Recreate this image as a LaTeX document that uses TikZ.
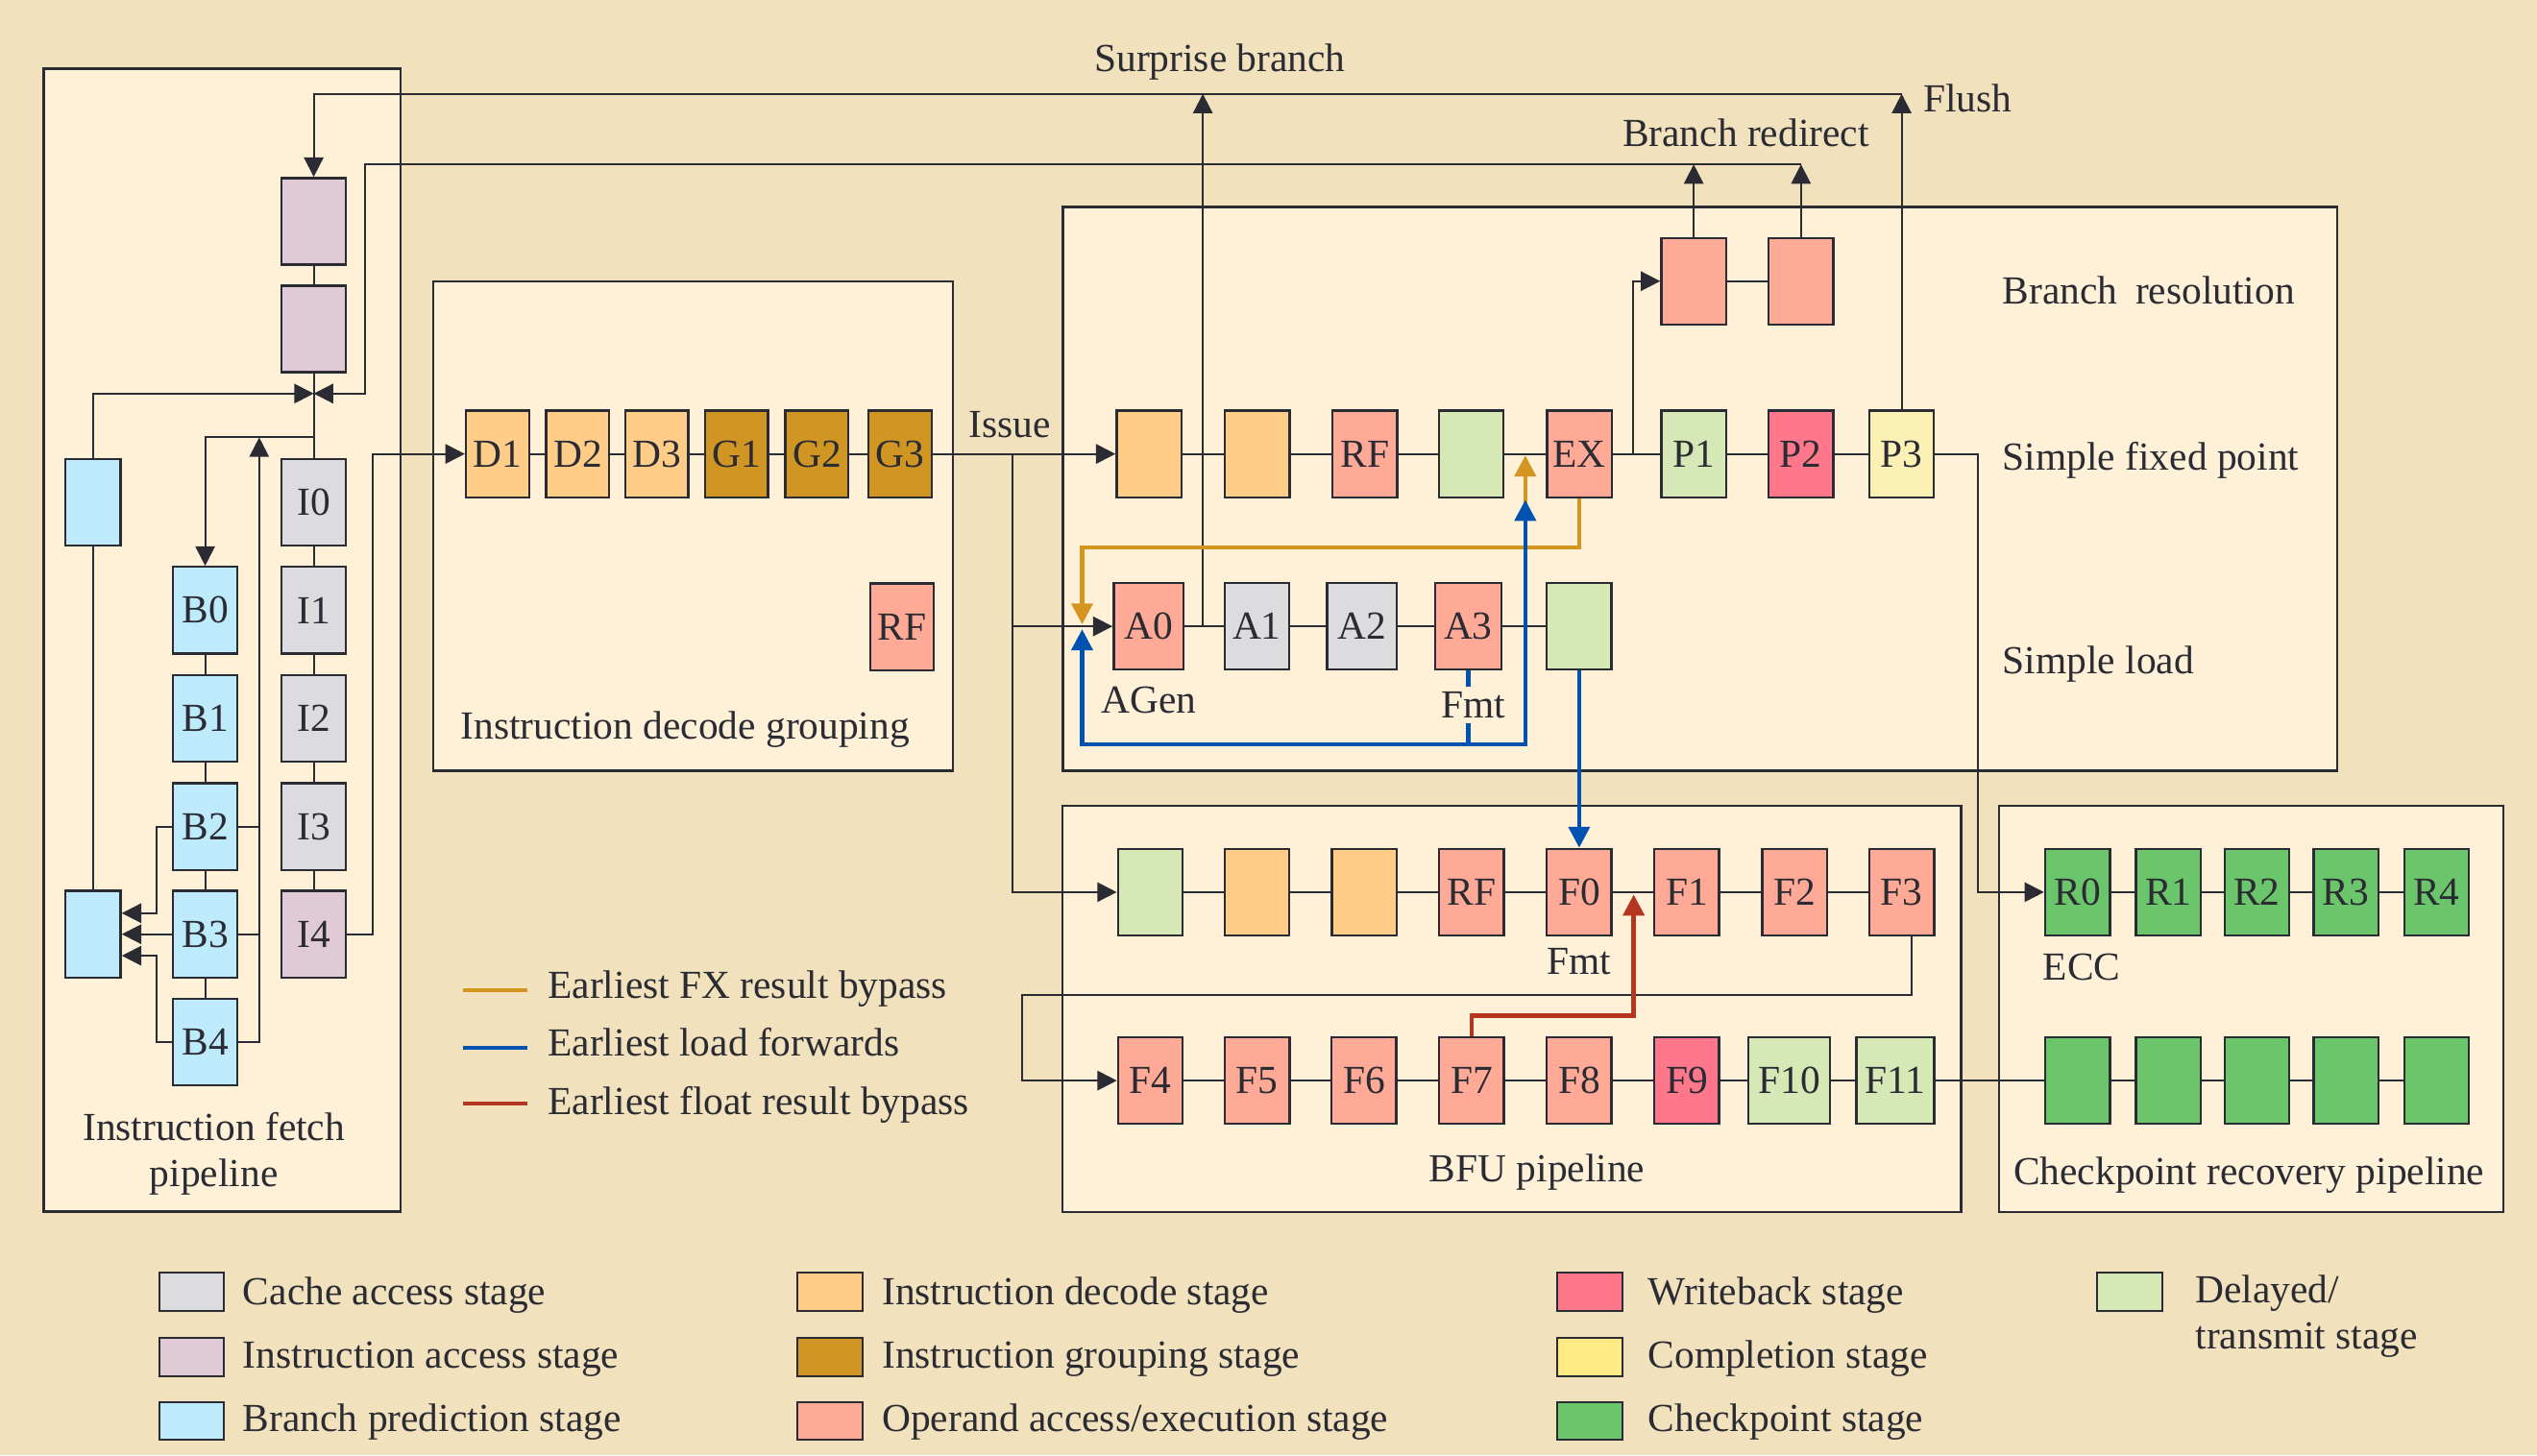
\documentclass[tikz,border=0pt]{standalone}
\usepackage{fontspec}
\setmainfont{Liberation Serif}
\usetikzlibrary{arrows.meta,calc}
\definecolor{bgc}{HTML}{F1E1BC}
\definecolor{panelc}{HTML}{FFF0D8}
\definecolor{ink}{HTML}{2A2B33}
\definecolor{cache}{HTML}{DCDCDE}
\definecolor{iacc}{HTML}{DFCAD5}
\definecolor{bpred}{HTML}{BDEBFC}
\definecolor{idec}{HTML}{FFCD88}
\definecolor{igrp}{HTML}{D19523}
\definecolor{oper}{HTML}{FFAA96}
\definecolor{wbk}{HTML}{FF778B}
\definecolor{compl}{HTML}{FBF1B5}
\definecolor{compleg}{HTML}{FFEA85}
\definecolor{ckpt}{HTML}{6BC56B}
\definecolor{dly}{HTML}{D5E8B5}
\definecolor{fxc}{HTML}{D4961F}
\definecolor{ldc}{HTML}{0052B0}
\definecolor{flc}{HTML}{B5361F}
\tikzset{
  stage/.style={draw=ink, line width=1.4pt, minimum width=40pt, minimum height=53.5pt, inner sep=0pt, text=ink},
  panel/.style={draw=ink, line width=1.5pt, fill=panelc},
  conn/.style={draw=ink, line width=1.2pt},
  arr/.style={conn, -{Triangle[length=12pt,width=12pt]}},
  byo/.style={draw=fxc, line width=2.6pt},
  byb/.style={draw=ldc, line width=2.6pt},
  byr/.style={draw=flc, line width=2.6pt},
  carr/.style={-{Triangle[length=13pt,width=13pt]}},
  lbl/.style={text=ink, inner sep=0pt},
  swatch/.style={draw=ink, line width=1.2pt, minimum width=40pt, minimum height=23.5pt, inner sep=0pt},
}
\begin{document}
\begin{tikzpicture}[x=1pt,y=-1pt,font=\fontsize{24.6pt}{29pt}\selectfont]
\fill[bgc] (0,0) rectangle (1568,899.5);
\useasboundingbox (0,0) rectangle (1568,899.5);
% containers
\draw[panel] (27,42.4) rectangle (247.5,749);
\draw[panel] (267.8,174) rectangle (589,476.3);
\draw[panel] (656.8,128) rectangle (1444.4,476.3);
\draw[panel] (656.7,498.2) rectangle (1212,749.3);
\draw[panel] (1235.6,498.2) rectangle (1547.2,749.3);

% ---------------- fetch pipeline
\node[stage, fill=iacc] (pa) at (193.9,136.8) {};
\node[stage, fill=iacc] (pb) at (193.9,203.4) {};
\node[stage, fill=cache] (I0) at (193.9,310.5) {I0};
\node[stage, fill=cache] (I1) at (193.9,377.2) {I1};
\node[stage, fill=cache] (I2) at (193.9,444) {I2};
\node[stage, fill=cache] (I3) at (193.9,511) {I3};
\node[stage, fill=iacc] (I4) at (193.9,577.5) {I4};
\node[stage, fill=bpred] (B0) at (126.8,377.2) {B0};
\node[stage, fill=bpred] (B1) at (126.8,444) {B1};
\node[stage, fill=bpred] (B2) at (126.8,511) {B2};
\node[stage, fill=bpred] (B3) at (126.8,577.5) {B3};
\node[stage, fill=bpred] (B4) at (126.8,644.2) {B4};
\node[stage, fill=bpred, minimum width=34.4pt] (bt) at (57.4,310.5) {};
\node[stage, fill=bpred, minimum width=34.4pt] (bb) at (57.4,577.5) {};

% ---------------- decode
\node[stage, fill=idec, minimum width=39pt] (D1) at (307.5,280.6) {D1};
\node[stage, fill=idec, minimum width=39pt] (D2) at (357.1,280.6) {D2};
\node[stage, fill=idec, minimum width=39pt] (D3) at (405.9,280.6) {D3};
\node[stage, fill=igrp, minimum width=39pt] (G1) at (455.2,280.6) {G1};
\node[stage, fill=igrp, minimum width=39pt] (G2) at (504.9,280.6) {G2};
\node[stage, fill=igrp, minimum width=39pt] (G3) at (556.4,280.6) {G3};
\node[stage, fill=oper, minimum width=39pt] (dRF) at (557.5,387.5) {RF};

% ---------------- fixed point / branch
\node[stage, fill=idec] (x1) at (710.1,280.6) {};
\node[stage, fill=idec] (x2) at (777,280.6) {};
\node[stage, fill=oper] (xRF) at (843.6,280.6) {RF};
\node[stage, fill=dly] (xG) at (909.3,280.6) {};
\node[stage, fill=oper] (EX) at (976.2,280.6) {EX};
\node[stage, fill=dly] (P1) at (1046.8,280.6) {P1};
\node[stage, fill=wbk] (P2) at (1113.1,280.6) {P2};
\node[stage, fill=compl] (P3) at (1175.3,280.6) {P3};
\node[stage, fill=oper] (br1) at (1046.8,173.8) {};
\node[stage, fill=oper] (br2) at (1113.1,173.8) {};

% ---------------- simple load
\node[stage, fill=oper, minimum width=43pt] (A0) at (709.8,387.2) {A0};
\node[stage, fill=cache] (A1) at (776.8,387.2) {A1};
\node[stage, fill=cache, minimum width=43pt] (A2) at (841.7,387.2) {A2};
\node[stage, fill=oper, minimum width=41pt] (A3) at (907.4,387.2) {A3};
\node[stage, fill=dly] (lG) at (976,387.2) {};

% ---------------- BFU
\node[stage, fill=dly] (u1) at (710.9,551.5) {};
\node[stage, fill=idec] (u2) at (776.8,551.5) {};
\node[stage, fill=idec] (u3) at (843.2,551.5) {};
\node[stage, fill=oper] (uRF) at (909.5,551.5) {RF};
\node[stage, fill=oper] (F0) at (976,551.5) {F0};
\node[stage, fill=oper] (F1) at (1042.5,551.5) {F1};
\node[stage, fill=oper] (F2) at (1109.1,551.5) {F2};
\node[stage, fill=oper] (F3) at (1175.4,551.5) {F3};
\node[stage, fill=oper] (F4) at (711,668) {F4};
\node[stage, fill=oper] (F5) at (777,668) {F5};
\node[stage, fill=oper] (F6) at (843,668) {F6};
\node[stage, fill=oper] (F7) at (909.5,668) {F7};
\node[stage, fill=oper] (F8) at (976,668) {F8};
\node[stage, fill=wbk] (F9) at (1042.5,668) {F9};
\node[stage, fill=dly, minimum width=50.4pt] (F10) at (1105.8,668) {F10};
\node[stage, fill=dly, minimum width=48pt] (F11) at (1171.4,668) {F11};

% ---------------- checkpoint
\node[stage, fill=ckpt] (R0) at (1284,551.5) {R0};
\node[stage, fill=ckpt] (R1) at (1340.2,551.5) {R1};
\node[stage, fill=ckpt] (R2) at (1394.9,551.5) {R2};
\node[stage, fill=ckpt] (R3) at (1449.9,551.5) {R3};
\node[stage, fill=ckpt] (R4) at (1505.9,551.5) {R4};
\node[stage, fill=ckpt] (c0) at (1284,668) {};
\node[stage, fill=ckpt] (c1) at (1340.2,668) {};
\node[stage, fill=ckpt] (c2) at (1394.9,668) {};
\node[stage, fill=ckpt] (c3) at (1449.9,668) {};
\node[stage, fill=ckpt] (c4) at (1505.9,668) {};

% ---------------- coordinates
\coordinate (jn) at (193.9,243.3);
\coordinate (jb) at (193.9,270.4);
\coordinate (rdR) at (1113.1,101.6);
\coordinate (rdL) at (225.6,101.6);
\coordinate (flR) at (1175.3,58);
\coordinate (flL) at (193.9,58);
\coordinate (sbB) at (743.4,387.2);
\coordinate (sbT) at (743.4,58);
\coordinate (iss) at (625.8,280.6);
\coordinate (exj) at (1009.2,280.6);
\coordinate (p3j) at (1222.3,280.6);
\coordinate (busB) at (160.2,644.2);
\coordinate (busT) at (160.2,270.4);

% ---------------- black connectors, fetch
\draw[conn] (pa.south) -- (pb.north);
\draw[conn] (pb.south) -- (I0.north);
\draw[conn] (I0.south) -- (I1.north);
\draw[conn] (I1.south) -- (I2.north);
\draw[conn] (I2.south) -- (I3.north);
\draw[conn] (I3.south) -- (I4.north);
\draw[conn] (B0.south) -- (B1.north);
\draw[conn] (B1.south) -- (B2.north);
\draw[conn] (B2.south) -- (B3.north);
\draw[conn] (B3.south) -- (B4.north);
\draw[conn] (bb.north) -- (bt.south);
\draw[arr] (bt.north) |- (jn);
\draw[arr] (jb) -| (B0.north);
\draw[arr] (B4.east) -- (busB) -- (busT);
\draw[conn] (B2.east) -- (B2.east -| busB);
\draw[conn] (B3.east) -- (B3.east -| busB);
\draw[arr] (B2.west) -- ++(-9.6,0) |- ($(bb.east)+(0,-13)$);
\draw[arr] (B3.west) -- (bb.east);
\draw[arr] (B4.west) -- ++(-9.6,0) |- ($(bb.east)+(0,13.3)$);
\draw[arr] (I4.east) -- (230.1,577.5) |- (D1.west);

% flush / redirect / surprise
\draw[arr] (P3.north) -- (flR);
\draw[arr] (flR) -- (flL) -- (pa.north);
\draw[arr] (br1.north) -- (br1.north |- rdR);
\draw[arr] (br2.north) -- (rdR);
\draw[arr] (rdR) -- (rdL) |- (jn);
\draw[arr] (sbB) -- (sbT);

% decode chain
\draw[conn] (D1.east) -- (D2.west);
\draw[conn] (D2.east) -- (D3.west);
\draw[conn] (D3.east) -- (G1.west);
\draw[conn] (G1.east) -- (G2.west);
\draw[conn] (G2.east) -- (G3.west);
\draw[arr] (G3.east) -- (x1.west);
\draw[arr] (iss) |- (A0.west);
\draw[arr] (iss) |- (u1.west);

% fixed chain
\draw[conn] (x1.east) -- (x2.west);
\draw[conn] (x2.east) -- (xRF.west);
\draw[conn] (xRF.east) -- (xG.west);
\draw[conn] (xG.east) -- (EX.west);
\draw[conn] (EX.east) -- (P1.west);
\draw[conn] (P1.east) -- (P2.west);
\draw[conn] (P2.east) -- (P3.west);
\draw[arr] (exj) |- (br1.west);
\draw[conn] (br1.east) -- (br2.west);
\draw[arr] (P3.east) -- (p3j) |- (R0.west);

% load chain
\draw[conn] (A0.east) -- (A1.west);
\draw[conn] (A1.east) -- (A2.west);
\draw[conn] (A2.east) -- (A3.west);
\draw[conn] (A3.east) -- (lG.west);

% BFU chains
\draw[conn] (u1.east) -- (u2.west);
\draw[conn] (u2.east) -- (u3.west);
\draw[conn] (u3.east) -- (uRF.west);
\draw[conn] (uRF.east) -- (F0.west);
\draw[conn] (F0.east) -- (F1.west);
\draw[conn] (F1.east) -- (F2.west);
\draw[conn] (F2.east) -- (F3.west);
\draw[arr] ($(F3.south)+(6.1,0)$) -- ++(0,36.4) -| (631.7,630) |- (F4.west);
\draw[conn] (F4.east) -- (F5.west);
\draw[conn] (F5.east) -- (F6.west);
\draw[conn] (F6.east) -- (F7.west);
\draw[conn] (F7.east) -- (F8.west);
\draw[conn] (F8.east) -- (F9.west);
\draw[conn] (F9.east) -- (F10.west);
\draw[conn] (F10.east) -- (F11.west);
\draw[conn] (F11.east) -- (c0.west);

% checkpoint chains
\draw[conn] (R0.east) -- (R1.west);
\draw[conn] (R1.east) -- (R2.west);
\draw[conn] (R2.east) -- (R3.west);
\draw[conn] (R3.east) -- (R4.west);
\draw[conn] (c0.east) -- (c1.west);
\draw[conn] (c1.east) -- (c2.west);
\draw[conn] (c2.east) -- (c3.west);
\draw[conn] (c3.east) -- (c4.west);

% ---------------- bypass paths
\draw[byo, carr] (EX.south) |- (668.8,338.5) -- (668.8,386);
\draw[byo, carr] (942.7,338.5) -- (942.7,281.5);
\draw[byb, carr] (A3.south) |- (668.8,460.2) -- (668.8,389);
\draw[byb, carr] (A3.south |- 0,460.2) -| (942.7,309);
\draw[byb, carr] (lG.south) -- (F0.north);
\draw[byr, carr] (F7.north) |- (1009.7,627.8) -- (1009.7,553);

% ---------------- labels
\node[lbl, anchor=base] (tSB) at (754,44.3) {Surprise branch};
\node[lbl, anchor=base] (tBR) at (1079,90.4) {Branch redirect};
\node[lbl, anchor=base west] (tFl) at (1188.4,69.3) {Flush};
\node[lbl, anchor=base] (tIss) at (624.2,270.4) {Issue};
\node[lbl, anchor=base west] (tBres) at (1237.6,188.2) {Branch\hspace{0.45em}resolution};
\node[lbl, anchor=base west] (tSfp) at (1237.6,290.4) {Simple fixed point};
\node[lbl, anchor=base west] (tSl) at (1237.6,416.2) {Simple load};
\node[lbl, anchor=base] (tAG) at (710,440.8) {AGen};
\node[lbl, anchor=base, fill=panelc, inner ysep=3pt] (tFmt1) at (910.4,443.6) {Fmt};
\node[lbl, anchor=base] (tFmt2) at (975.7,602.2) {Fmt};
\node[lbl, anchor=base west] (tECC) at (1262.6,605.7) {ECC};
\node[lbl, anchor=base] (tBFU) at (950,730.6) {BFU pipeline};
\node[lbl, anchor=base] (tCk) at (1390,732.3) {Checkpoint recovery pipeline};
\node[lbl, anchor=base west] (tIdg) at (284.6,456.6) {Instruction decode grouping};
\node[lbl, anchor=base] (tIf1) at (132.2,705.3) {Instruction fetch};
\node[lbl, anchor=base] (tIf2) at (132.2,733.8) {pipeline};

% bypass legend
\draw[byo] (286.3,612) -- (326,612);
\draw[byb] (286.3,647.7) -- (326,647.7);
\draw[byr] (286.3,682.2) -- (326,682.2);
\node[lbl, anchor=base west] (lg1) at (338.5,617.4) {Earliest FX result bypass};
\node[lbl, anchor=base west] (lg2) at (338.5,653) {Earliest load forwards};
\node[lbl, anchor=base west] (lg3) at (338.5,689.2) {Earliest float result bypass};

% colour legend
\node[swatch, fill=cache] (s1) at (118.3,798.7) {};
\node[swatch, fill=iacc] (s2) at (118.3,838.8) {};
\node[swatch, fill=bpred] (s3) at (118.3,878.3) {};
\node[swatch, fill=idec] (s4) at (513,798.7) {};
\node[swatch, fill=igrp] (s5) at (513,838.8) {};
\node[swatch, fill=oper] (s6) at (513,878.3) {};
\node[swatch, fill=wbk] (s7) at (982.5,798.7) {};
\node[swatch, fill=compleg] (s8) at (982.5,838.8) {};
\node[swatch, fill=ckpt] (s9) at (982.5,878.3) {};
\node[swatch, fill=dly] (s10) at (1316.3,798.7) {};
\node[lbl, anchor=base west] (l1) at (150,806.6) {Cache access stage};
\node[lbl, anchor=base west] (l2) at (150,845.6) {Instruction access stage};
\node[lbl, anchor=base west] (l3) at (150,885.2) {Branch prediction stage};
\node[lbl, anchor=base west] (l4) at (545,806.6) {Instruction decode stage};
\node[lbl, anchor=base west] (l5) at (545,845.6) {Instruction grouping stage};
\node[lbl, anchor=base west] (l6) at (545,885.2) {Operand access/execution stage};
\node[lbl, anchor=base west] (l7) at (1018.4,806.6) {Writeback stage};
\node[lbl, anchor=base west] (l8) at (1018.4,845.6) {Completion stage};
\node[lbl, anchor=base west] (l9) at (1018.4,885.2) {Checkpoint stage};
\node[lbl, anchor=base west] (l10) at (1356.8,805.3) {Delayed/};
\node[lbl, anchor=base west] (l11) at (1356.8,833.7) {transmit stage};
\end{tikzpicture}
\end{document}
